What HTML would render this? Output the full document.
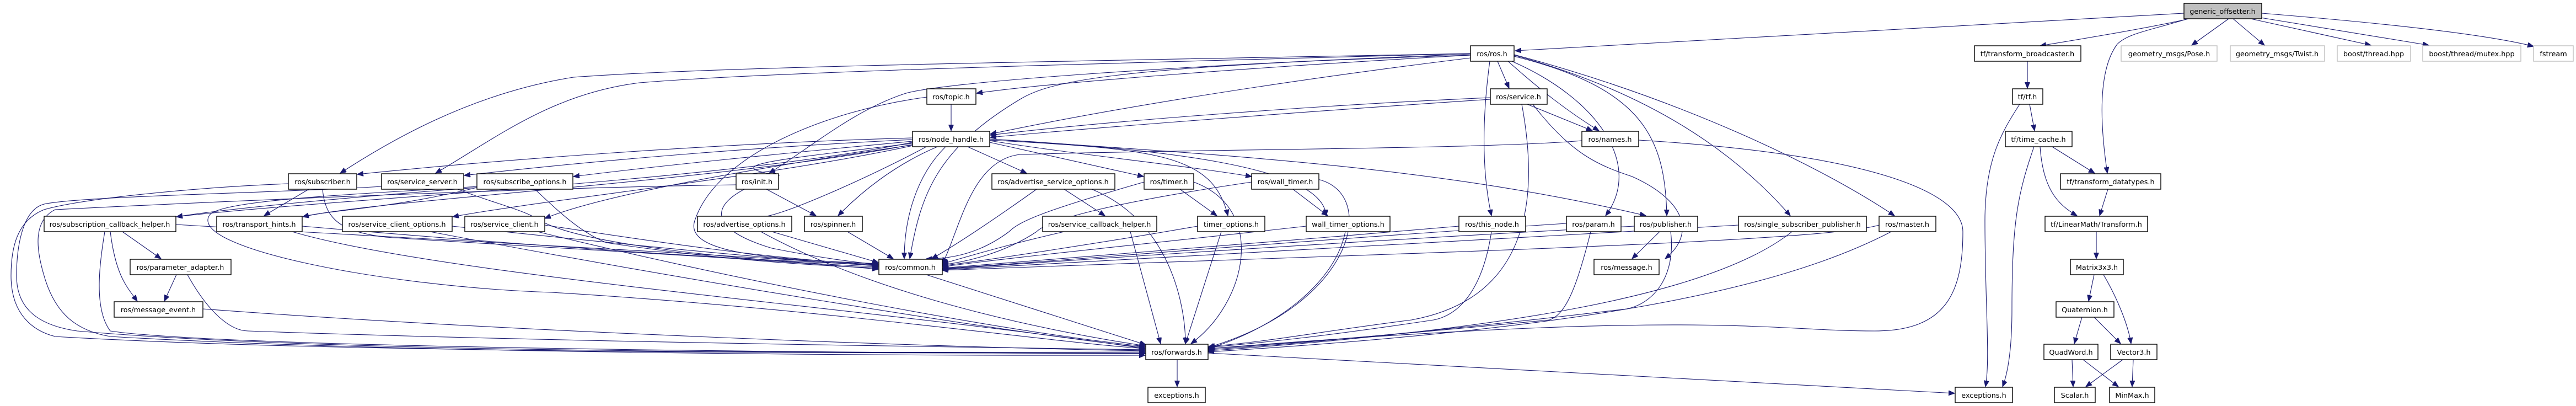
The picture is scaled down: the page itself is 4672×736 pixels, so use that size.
<!DOCTYPE html>
<html><head><meta charset="utf-8">
<style>
html,body{margin:0;padding:0;background:#fff;}
svg{display:block;}
text{font-family:"DejaVu Sans","Liberation Sans",sans-serif;font-size:12.8px;fill:#000;text-anchor:middle;}
.n{fill:#fff;stroke:#000;stroke-width:1.4;}
.g{fill:#fff;stroke:#bfbfbf;stroke-width:1.4;}
.r{fill:#bfbfbf;stroke:#000;stroke-width:1.4;}
path{fill:none;stroke:#191970;stroke-width:1.1;}
</style></head>
<body>
<svg width="4672" height="736" viewBox="0 0 4672 736" xmlns="http://www.w3.org/2000/svg">
<defs>
<marker id="a" markerUnits="userSpaceOnUse" markerWidth="12" markerHeight="10" refX="11" refY="4.5" orient="auto">
<polygon points="0,0 11,4.5 0,9" fill="#191970" stroke="#191970"/>
</marker>
</defs>
<g marker-end="url(#a)">
<path d="M3961,24 L2748,92"/>
<path d="M3970,34 C3900,50 3780,70 3700,83"/>
<path d="M3968,34 C3900,55 3860,60 3840,80 C3810,120 3805,200 3822,314"/>
<path d="M4042,34 L3975,82"/>
<path d="M4050,34 L4107,82"/>
<path d="M4082,34 L4300,82"/>
<path d="M4100,32 L4405,82"/>
<path d="M4102,24 C4300,40 4500,60 4595,84"/>
<path d="M3677,111 L3677,160"/>
<path d="M3681,189 L3690,237"/>
<path d="M3663,189 C3630,240 3600,290 3600,400 C3600,550 3610,650 3601,701"/>
<path d="M3722,266 L3799,314"/>
<path d="M3700,266 C3705,340 3730,370 3767,391"/>
<path d="M3689,266 C3660,350 3649,400 3649,560 C3649,640 3640,680 3632,701"/>
<path d="M3823,343 L3808,391"/>
<path d="M3802,420 L3802,469"/>
<path d="M3798,498 L3788,546"/>
<path d="M3815,498 C3840,540 3860,590 3865,623"/>
<path d="M3776,575 L3762,623"/>
<path d="M3798,575 L3846,623"/>
<path d="M3758,652 L3760,701"/>
<path d="M3778,652 L3842,701"/>
<path d="M3850,652 L3783,701"/>
<path d="M3869,652 L3867,701"/>
<path d="M2667,100 C2300,120 1900,150 1771,169"/>
<path d="M2667,105 C2300,150 2000,200 1796,243"/>
<path d="M2716,111 L2737,160"/>
<path d="M2735,111 C2790,160 2840,200 2900,237"/>
<path d="M2667,97 C2000,110 1300,120 1040,140 C850,170 700,260 617,314"/>
<path d="M2667,97 C2000,115 1400,130 1160,150 C1000,170 900,250 790,314"/>
<path d="M2667,98 C2100,120 1700,150 1640,170 C1550,200 1480,260 1395,314"/>
<path d="M2667,100 C2000,120 1900,150 1850,180 C1700,270 1670,350 1650,469"/>
<path d="M2702,111 C2690,200 2685,300 2705,391"/>
<path d="M2742,111 C2900,180 2980,300 2912,391"/>
<path d="M2746,102 C2980,160 3020,250 3023,391"/>
<path d="M2746,100 C3000,170 3150,280 3247,391"/>
<path d="M2746,99 C3050,180 3300,300 3436,391"/>
<path d="M2703,177 C2400,190 2000,220 1796,245"/>
<path d="M2703,180 C2400,200 2000,230 1796,249"/>
<path d="M2770,189 L2888,237"/>
<path d="M2780,189 C2850,280 2900,300 2960,320 C3050,360 3080,420 3020,469"/>
<path d="M2760,189 C2790,350 2780,540 2560,580 C2400,600 2300,620 2192,628"/>
<path d="M2869,255 C2700,270 2200,270 1850,280 C1760,290 1740,420 1709,478"/>
<path d="M2972,254 C3400,280 3560,350 3560,420 C3560,530 3530,600 3400,600 C3200,600 3100,560 2192,632"/>
<path d="M1725,189 L1725,237"/>
<path d="M1681,176 C1500,200 1300,280 1260,400 C1240,460 1400,470 1593,478"/>
<path d="M1655,250 C1300,260 900,290 648,316"/>
<path d="M1655,253 C1300,270 1000,300 842,318"/>
<path d="M1655,256 C1400,280 1200,300 1040,320"/>
<path d="M1655,260 C1400,290 1300,300 1413,318"/>
<path d="M1680,266 C1580,320 1400,400 1380,392"/>
<path d="M1700,266 C1620,300 1560,350 1520,391"/>
<path d="M1715,266 C1660,320 1640,400 1640,469"/>
<path d="M1755,266 L1862,314"/>
<path d="M1795,258 L2074,320"/>
<path d="M1795,255 C1950,280 2150,300 2270,320"/>
<path d="M1795,254 C2100,270 2200,280 2227,391"/>
<path d="M1795,252 C2100,270 2400,300 2405,391"/>
<path d="M1795,252 C2200,280 2600,300 2985,391"/>
<path d="M1660,263 C1400,320 1000,360 821,393"/>
<path d="M1660,262 C1400,300 1100,350 988,396"/>
<path d="M1655,262 C1300,330 700,360 549,393"/>
<path d="M1655,258 C1300,330 600,360 320,393"/>
<path d="M523,333 C350,340 150,360 80,380 C30,400 20,450 20,500 C20,570 60,600 100,610 C600,640 1500,640 2077,640"/>
<path d="M560,343 L479,391"/>
<path d="M585,343 C590,400 620,420 700,430 C1000,450 1400,470 1593,488"/>
<path d="M692,338 C500,350 150,355 80,370 C40,380 30,450 30,500 C30,560 70,590 140,600 C600,640 1500,640 2077,638"/>
<path d="M865,340 C600,360 400,380 320,393"/>
<path d="M865,340 C700,380 600,380 549,393"/>
<path d="M866,338 C700,350 400,360 380,390 C340,450 700,520 1000,530 C1500,560 1900,620 2077,632"/>
<path d="M830,343 C900,370 950,380 980,400 C1050,440 1300,470 1593,484"/>
<path d="M970,343 C1010,380 1050,420 1100,440 C1300,470 1450,480 1593,486"/>
<path d="M1335,335 C1000,340 500,360 100,380 C60,400 65,450 80,500 C100,570 140,600 200,610 C700,640 1600,645 2077,644"/>
<path d="M1350,343 C1280,380 1300,420 1400,450 C1500,470 1560,476 1593,480"/>
<path d="M1390,343 L1480,391"/>
<path d="M190,420 C180,480 170,560 200,600 C400,630 1500,640 2077,641"/>
<path d="M200,420 C210,500 230,520 249,546"/>
<path d="M222,420 L292,469"/>
<path d="M319,407 C700,430 1300,460 1593,482"/>
<path d="M320,498 L298,546"/>
<path d="M340,498 C380,570 420,600 450,600 C1000,620 1800,630 2077,634"/>
<path d="M368,560 C900,600 1700,630 2077,636"/>
<path d="M530,420 C800,500 1600,560 2077,632"/>
<path d="M548,410 C900,440 1300,470 1593,480"/>
<path d="M780,420 C1200,500 1800,600 2077,630"/>
<path d="M820,410 C1100,440 1400,470 1593,482"/>
<path d="M975,420 C1300,500 1800,600 2077,628"/>
<path d="M988,408 C1200,440 1400,470 1593,480"/>
<path d="M1380,420 C1600,540 1900,600 2077,627"/>
<path d="M1400,420 L1593,476"/>
<path d="M1537,420 L1620,469"/>
<path d="M1880,343 C1800,400 1740,440 1690,469"/>
<path d="M1930,343 L2004,391"/>
<path d="M1980,343 C2120,400 2150,550 2150,623"/>
<path d="M1930,420 C1800,450 1740,470 1709,478"/>
<path d="M2050,420 L2105,623"/>
<path d="M2075,330 C1900,380 1850,400 1830,420 C1790,450 1740,470 1680,469"/>
<path d="M2140,343 L2207,391"/>
<path d="M2165,330 C2300,380 2260,550 2160,623"/>
<path d="M2270,330 C2000,370 1900,400 1880,420 C1820,460 1750,475 1709,480"/>
<path d="M2345,343 L2408,391"/>
<path d="M2390,325 C2500,350 2460,550 2191,630"/>
<path d="M2172,410 C2000,440 1800,470 1709,482"/>
<path d="M2215,420 L2150,623"/>
<path d="M2369,410 C2100,440 1800,470 1709,484"/>
<path d="M2440,420 C2420,520 2300,600 2191,632"/>
<path d="M2646,410 C2300,440 1900,470 1709,486"/>
<path d="M2705,420 C2690,520 2650,570 2600,580 C2400,610 2300,620 2191,630"/>
<path d="M2841,405 C2300,440 1900,475 1709,487"/>
<path d="M2885,420 C2860,520 2840,570 2810,580 C2500,610 2300,625 2191,632"/>
<path d="M2964,410 C2400,440 1900,475 1709,488"/>
<path d="M3010,420 L2960,469"/>
<path d="M3030,420 C3040,500 3000,550 2950,560 C2700,590 2400,620 2191,634"/>
<path d="M3153,408 C2600,440 2000,475 1709,489"/>
<path d="M3250,420 C3100,540 2700,600 2191,636"/>
<path d="M3408,408 C3300,440 2500,460 1709,490"/>
<path d="M3430,420 C3200,540 2800,600 2191,638"/>
<path d="M1680,498 L2078,625"/>
<path d="M2135,652 L2135,701"/>
<path d="M2191,640 L3545,713"/>
</g>
<g>
<rect class="r" x="3961" y="6" width="141" height="28"/><text x="4031" y="25">generic_offsetter.h</text>
<rect class="n" x="2667" y="83" width="79" height="28"/><text x="2706" y="102">ros/ros.h</text>
<rect class="n" x="3581" y="83" width="193" height="28"/><text x="3677" y="102">tf/transform_broadcaster.h</text>
<rect class="g" x="3847" y="83" width="174" height="28"/><text x="3934" y="102">geometry_msgs/Pose.h</text>
<rect class="g" x="4045" y="83" width="171" height="28"/><text x="4130" y="102">geometry_msgs/Twist.h</text>
<rect class="g" x="4239" y="83" width="133" height="28"/><text x="4305" y="102">boost/thread.hpp</text>
<rect class="g" x="4394" y="83" width="178" height="28"/><text x="4483" y="102">boost/thread/mutex.hpp</text>
<rect class="g" x="4595" y="83" width="72" height="28"/><text x="4631" y="102">fstream</text>
<rect class="n" x="1681" y="161" width="89" height="28"/><text x="1725" y="180">ros/topic.h</text>
<rect class="n" x="2703" y="161" width="103" height="28"/><text x="2754" y="180">ros/service.h</text>
<rect class="n" x="3650" y="161" width="55" height="28"/><text x="3677" y="180">tf/tf.h</text>
<rect class="n" x="1655" y="238" width="140" height="28"/><text x="1725" y="257">ros/node_handle.h</text>
<rect class="n" x="2869" y="238" width="103" height="28"/><text x="2920" y="257">ros/names.h</text>
<rect class="n" x="3637" y="238" width="121" height="28"/><text x="3697" y="257">tf/time_cache.h</text>
<rect class="n" x="523" y="315" width="124" height="28"/><text x="585" y="334">ros/subscriber.h</text>
<rect class="n" x="692" y="315" width="149" height="28"/><text x="766" y="334">ros/service_server.h</text>
<rect class="n" x="865" y="315" width="174" height="28"/><text x="952" y="334">ros/subscribe_options.h</text>
<rect class="n" x="1335" y="315" width="77" height="28"/><text x="1373" y="334">ros/init.h</text>
<rect class="n" x="1799" y="315" width="223" height="28"/><text x="1910" y="334">ros/advertise_service_options.h</text>
<rect class="n" x="2075" y="315" width="90" height="28"/><text x="2120" y="334">ros/timer.h</text>
<rect class="n" x="2270" y="315" width="122" height="28"/><text x="2331" y="334">ros/wall_timer.h</text>
<rect class="n" x="3737" y="315" width="182" height="28"/><text x="3828" y="334">tf/transform_datatypes.h</text>
<rect class="n" x="80" y="392" width="239" height="28"/><text x="199" y="411">ros/subscription_callback_helper.h</text>
<rect class="n" x="393" y="392" width="155" height="28"/><text x="470" y="411">ros/transport_hints.h</text>
<rect class="n" x="621" y="392" width="199" height="28"/><text x="720" y="411">ros/service_client_options.h</text>
<rect class="n" x="843" y="392" width="145" height="28"/><text x="915" y="411">ros/service_client.h</text>
<rect class="n" x="1265" y="392" width="171" height="28"/><text x="1350" y="411">ros/advertise_options.h</text>
<rect class="n" x="1459" y="392" width="105" height="28"/><text x="1511" y="411">ros/spinner.h</text>
<rect class="n" x="1891" y="392" width="207" height="28"/><text x="1994" y="411">ros/service_callback_helper.h</text>
<rect class="n" x="2172" y="392" width="122" height="28"/><text x="2233" y="411">timer_options.h</text>
<rect class="n" x="2369" y="392" width="152" height="28"/><text x="2445" y="411">wall_timer_options.h</text>
<rect class="n" x="2646" y="392" width="121" height="28"/><text x="2706" y="411">ros/this_node.h</text>
<rect class="n" x="2841" y="392" width="99" height="28"/><text x="2890" y="411">ros/param.h</text>
<rect class="n" x="2964" y="392" width="115" height="28"/><text x="3021" y="411">ros/publisher.h</text>
<rect class="n" x="3153" y="392" width="232" height="28"/><text x="3269" y="411">ros/single_subscriber_publisher.h</text>
<rect class="n" x="3408" y="392" width="103" height="28"/><text x="3459" y="411">ros/master.h</text>
<rect class="n" x="3709" y="392" width="186" height="28"/><text x="3802" y="411">tf/LinearMath/Transform.h</text>
<rect class="n" x="236" y="470" width="183" height="28"/><text x="327" y="489">ros/parameter_adapter.h</text>
<rect class="n" x="1594" y="470" width="115" height="28"/><text x="1651" y="489">ros/common.h</text>
<rect class="n" x="2891" y="470" width="118" height="28"/><text x="2950" y="489">ros/message.h</text>
<rect class="n" x="3755" y="470" width="96" height="28"/><text x="3803" y="489">Matrix3x3.h</text>
<rect class="n" x="207" y="547" width="161" height="28"/><text x="287" y="566">ros/message_event.h</text>
<rect class="n" x="3729" y="547" width="105" height="28"/><text x="3781" y="566">Quaternion.h</text>
<rect class="n" x="2078" y="624" width="113" height="28"/><text x="2134" y="643">ros/forwards.h</text>
<rect class="n" x="3707" y="624" width="98" height="28"/><text x="3756" y="643">QuadWord.h</text>
<rect class="n" x="3828" y="624" width="84" height="28"/><text x="3870" y="643">Vector3.h</text>
<rect class="n" x="2082" y="702" width="104" height="28"/><text x="2134" y="721">exceptions.h</text>
<rect class="n" x="3546" y="702" width="104" height="28"/><text x="3598" y="721">exceptions.h</text>
<rect class="n" x="3726" y="702" width="74" height="28"/><text x="3763" y="721">Scalar.h</text>
<rect class="n" x="3826" y="702" width="82" height="28"/><text x="3867" y="721">MinMax.h</text>
</g>
</svg>
</body></html>
